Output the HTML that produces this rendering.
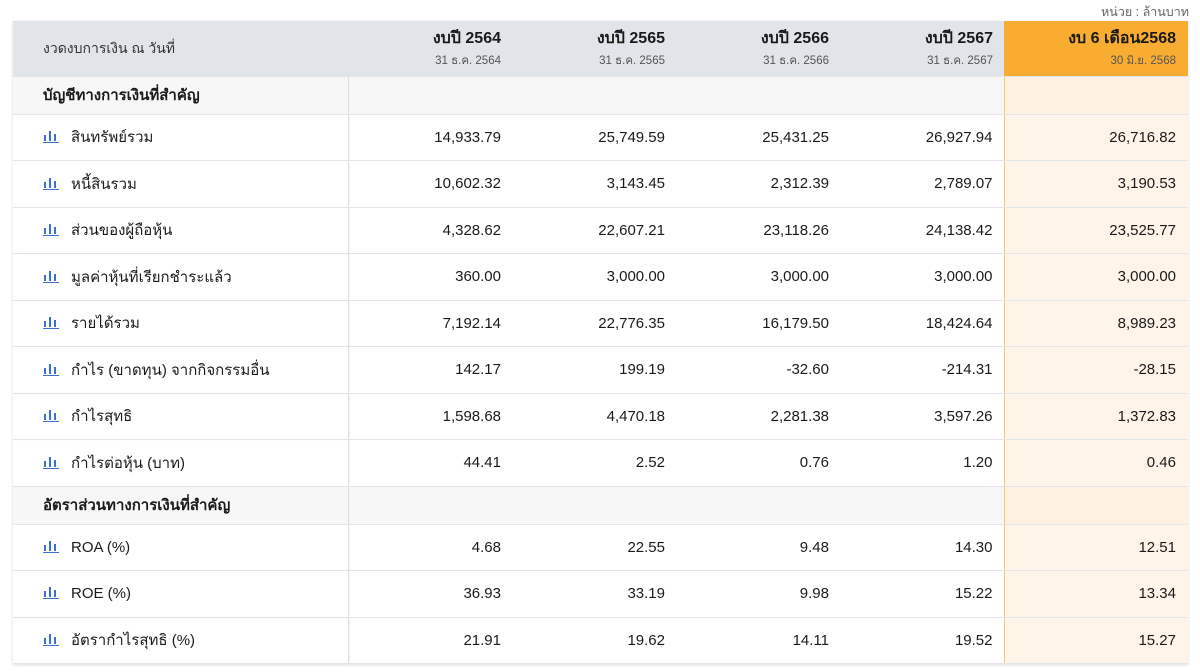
<!DOCTYPE html>
<html><head><meta charset="utf-8"><style>
*{margin:0;padding:0;box-sizing:border-box}
body{width:1200px;height:672px;background:#fff;font-family:"Liberation Sans","DejaVu Sans",sans-serif;color:#1a1a1a;position:relative;overflow:hidden}
.unit{position:absolute;right:11px;top:2px;font-size:12.5px;color:#666}
table{position:absolute;left:13px;top:21px;width:1175px;border-collapse:collapse;table-layout:fixed;box-shadow:0 1px 3px rgba(0,0,0,.15)}
td,th{font-size:15px;text-align:right;padding-right:11px;border-bottom:1px solid #e3e5e8}
th{background:#e1e4e8;height:55px;font-weight:bold;font-size:16px;vertical-align:top;padding-top:9px;line-height:18px}
th small{display:block;font-weight:normal;font-size:11.5px;color:#555;margin-top:6px;line-height:14px}
th.l{text-align:left;font-weight:normal;font-size:14px;padding-left:30px;vertical-align:middle;padding-top:0;color:#333}
th.o{background:#f8ad32;padding-right:12px}
td.l{text-align:left;padding-left:30px}
td.c{border-right:1px solid #ddd;box-shadow:3px 0 4px -2px rgba(0,0,0,.08)}
tr.r td{height:46.5px}
tr.s td{height:38px;background:#f7f7f8;font-weight:bold;font-size:15px}
td.o{background:#fff4e8;border-left:1px solid #f3c37a;padding-right:12px}
tr.s td.o{background:#fff1e2}
.ic{display:inline-block;width:14px;height:12px;margin-right:14px;vertical-align:-1px;position:relative}
.ic i{position:absolute;bottom:2px;width:2px;background:#3b6fd0}
.ic b{position:absolute;bottom:0;left:0;width:16px;height:1px;background:#3b6fd0}
</style></head><body>
<div class="unit">หน่วย : ล้านบาท</div>
<table>
<colgroup><col style="width:335px"><col style="width:164px"><col style="width:164px"><col style="width:164px"><col style="width:164px"><col style="width:184px"></colgroup>
<tr><th class="l c">งวดงบการเงิน ณ วันที่</th><th>งบปี 2564<small>31 ธ.ค. 2564</small></th><th>งบปี 2565<small>31 ธ.ค. 2565</small></th><th>งบปี 2566<small>31 ธ.ค. 2566</small></th><th>งบปี 2567<small>31 ธ.ค. 2567</small></th><th class="o">งบ 6 เดือน2568<small>30 มิ.ย. 2568</small></th></tr>
<tr class="s"><td class="l c" style="padding-left:30px">บัญชีทางการเงินที่สำคัญ</td><td></td><td></td><td></td><td></td><td class="o"></td></tr>
<tr class="r"><td class="l c"><span class="ic"><i style="left:1px;height:6px"></i><i style="left:6px;height:10px"></i><i style="left:11px;height:7px"></i><b></b></span>สินทรัพย์รวม</td><td>14,933.79</td><td>25,749.59</td><td>25,431.25</td><td>26,927.94</td><td class="o">26,716.82</td></tr>
<tr class="r"><td class="l c"><span class="ic"><i style="left:1px;height:6px"></i><i style="left:6px;height:10px"></i><i style="left:11px;height:7px"></i><b></b></span>หนี้สินรวม</td><td>10,602.32</td><td>3,143.45</td><td>2,312.39</td><td>2,789.07</td><td class="o">3,190.53</td></tr>
<tr class="r"><td class="l c"><span class="ic"><i style="left:1px;height:6px"></i><i style="left:6px;height:10px"></i><i style="left:11px;height:7px"></i><b></b></span>ส่วนของผู้ถือหุ้น</td><td>4,328.62</td><td>22,607.21</td><td>23,118.26</td><td>24,138.42</td><td class="o">23,525.77</td></tr>
<tr class="r"><td class="l c"><span class="ic"><i style="left:1px;height:6px"></i><i style="left:6px;height:10px"></i><i style="left:11px;height:7px"></i><b></b></span>มูลค่าหุ้นที่เรียกชำระแล้ว</td><td>360.00</td><td>3,000.00</td><td>3,000.00</td><td>3,000.00</td><td class="o">3,000.00</td></tr>
<tr class="r"><td class="l c"><span class="ic"><i style="left:1px;height:6px"></i><i style="left:6px;height:10px"></i><i style="left:11px;height:7px"></i><b></b></span>รายได้รวม</td><td>7,192.14</td><td>22,776.35</td><td>16,179.50</td><td>18,424.64</td><td class="o">8,989.23</td></tr>
<tr class="r"><td class="l c"><span class="ic"><i style="left:1px;height:6px"></i><i style="left:6px;height:10px"></i><i style="left:11px;height:7px"></i><b></b></span>กำไร (ขาดทุน) จากกิจกรรมอื่น</td><td>142.17</td><td>199.19</td><td>-32.60</td><td>-214.31</td><td class="o">-28.15</td></tr>
<tr class="r"><td class="l c"><span class="ic"><i style="left:1px;height:6px"></i><i style="left:6px;height:10px"></i><i style="left:11px;height:7px"></i><b></b></span>กำไรสุทธิ</td><td>1,598.68</td><td>4,470.18</td><td>2,281.38</td><td>3,597.26</td><td class="o">1,372.83</td></tr>
<tr class="r"><td class="l c"><span class="ic"><i style="left:1px;height:6px"></i><i style="left:6px;height:10px"></i><i style="left:11px;height:7px"></i><b></b></span>กำไรต่อหุ้น (บาท)</td><td>44.41</td><td>2.52</td><td>0.76</td><td>1.20</td><td class="o">0.46</td></tr>
<tr class="s"><td class="l c">อัตราส่วนทางการเงินที่สำคัญ</td><td></td><td></td><td></td><td></td><td class="o"></td></tr>
<tr class="r"><td class="l c"><span class="ic"><i style="left:1px;height:6px"></i><i style="left:6px;height:10px"></i><i style="left:11px;height:7px"></i><b></b></span>ROA (%)</td><td>4.68</td><td>22.55</td><td>9.48</td><td>14.30</td><td class="o">12.51</td></tr>
<tr class="r"><td class="l c"><span class="ic"><i style="left:1px;height:6px"></i><i style="left:6px;height:10px"></i><i style="left:11px;height:7px"></i><b></b></span>ROE (%)</td><td>36.93</td><td>33.19</td><td>9.98</td><td>15.22</td><td class="o">13.34</td></tr>
<tr class="r"><td class="l c"><span class="ic"><i style="left:1px;height:6px"></i><i style="left:6px;height:10px"></i><i style="left:11px;height:7px"></i><b></b></span>อัตรากำไรสุทธิ (%)</td><td>21.91</td><td>19.62</td><td>14.11</td><td>19.52</td><td class="o">15.27</td></tr>
</table>
</body></html>
